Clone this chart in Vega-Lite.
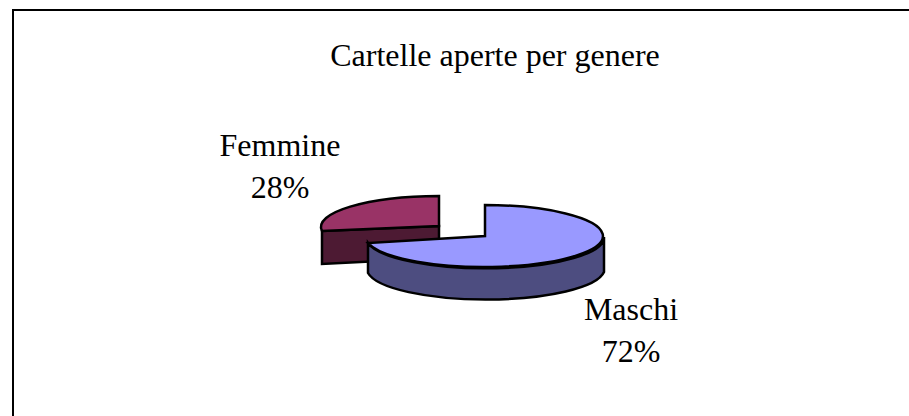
{
  "$schema": "https://vega.github.io/schema/vega-lite/v6.json",
  "width": 910,
  "height": 420,
  "autosize": {"type": "none"},
  "padding": {"left": 13, "top": 10, "right": 0, "bottom": 0},
  "background": "white",
  "view": {"stroke": "black", "strokeWidth": 2, "fill": "white"},
  "title": {
    "text": "Cartelle aperte per genere",
    "font": "Liberation Serif",
    "fontSize": 32,
    "fontWeight": "normal",
    "color": "black",
    "anchor": "middle",
    "dx": 27,
    "offset": -88,
    "baseline": "alphabetic"
  },
  "data": {
    "values": [
      {"genere": "Femmine", "quota": 0.28},
      {"genere": "Maschi", "quota": 0.72}
    ]
  },
  "resolve": {"scale": {"shape": "independent", "color": "independent"}},
  "layer": [
    {
      "mark": {"type": "point", "filled": true, "opacity": 1, "size": 4, "stroke": "black", "strokeWidth": 2.5},
      "encoding": {
        "shape": {
          "field": "genere", "type": "nominal", "legend": null,
          "scale": {
            "domain": ["Femmine", "Maschi"],
            "range": [
              "M-146,11 L-29,6 L-29,38 L-146,44 Z",
              "M-100,23 A119,31 0 0 0 136,17 L136,52 A119,31 0 0 1 -100,53 Z"
            ]
          }
        },
        "color": {
          "field": "genere", "type": "nominal", "legend": null,
          "scale": {"domain": ["Femmine", "Maschi"], "range": ["#4D1A33", "#4D4D80"]}
        }
      }
    },
    {
      "mark": {"type": "point", "filled": true, "opacity": 1, "size": 4, "stroke": "black", "strokeWidth": 2.5},
      "encoding": {
        "shape": {
          "field": "genere", "type": "nominal", "legend": null,
          "scale": {
            "domain": ["Femmine", "Maschi"],
            "range": [
              "M-29,6 L-29,-24 A119,31 0 0 0 -146,11 Z",
              "M17,16 L17,-15 A119,31 0 1 1 -100,23 Z"
            ]
          }
        },
        "color": {
          "field": "genere", "type": "nominal", "legend": null,
          "scale": {"domain": ["Femmine", "Maschi"], "range": ["#993366", "#9999FF"]}
        }
      }
    },
    {
      "mark": {"type": "text", "font": "Liberation Serif", "fontSize": 32, "color": "black", "align": "center", "baseline": "alphabetic"},
      "encoding": {
        "x": {"field": "genere", "type": "nominal", "axis": null, "scale": {"domain": ["Femmine", "Maschi"], "range": [267, 618], "padding": 0}},
        "y": {"field": "genere", "type": "nominal", "axis": null, "scale": {"domain": ["Femmine", "Maschi"], "range": [146, 310], "padding": 0}},
        "text": {"field": "genere", "type": "nominal"}
      }
    },
    {
      "mark": {"type": "text", "font": "Liberation Serif", "fontSize": 32, "color": "black", "align": "center", "baseline": "alphabetic", "dy": 42},
      "encoding": {
        "x": {"field": "genere", "type": "nominal", "axis": null, "scale": {"domain": ["Femmine", "Maschi"], "range": [267, 618], "padding": 0}},
        "y": {"field": "genere", "type": "nominal", "axis": null, "scale": {"domain": ["Femmine", "Maschi"], "range": [146, 310], "padding": 0}},
        "text": {"field": "quota", "type": "quantitative", "format": ".0%"}
      }
    }
  ]
}
